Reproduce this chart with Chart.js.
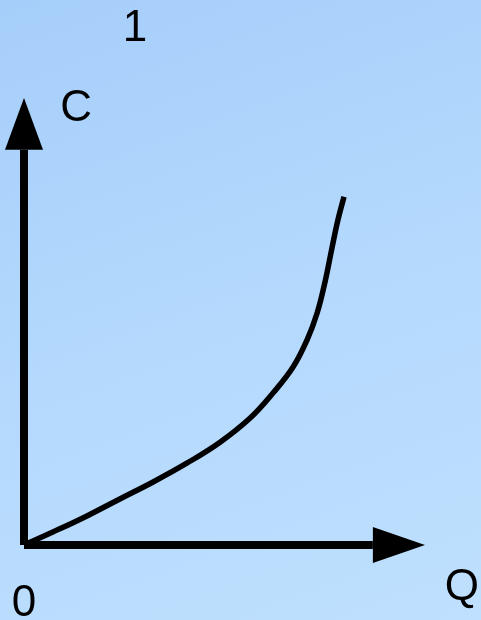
<!DOCTYPE html>
<html>
<head>
<meta charset="utf-8">
<script src="https://cdn.jsdelivr.net/npm/chart.js@4"></script>
<style>
  html, body { margin: 0; padding: 0; }
  body {
    width: 481px; height: 620px; overflow: hidden;
    background: linear-gradient(160deg, #a6cefa 0%, #b4d9fd 50%, #bfe0fe 100%);
  }
  canvas { display: block; }
</style>
</head>
<body>
<canvas id="costChart" width="481" height="620"></canvas>
<script>
  // curve: cost C against quantity Q (axis units 0..100)
  const curveQ = [0, 7.2, 15.7, 23.9, 32.2, 40.6, 48.9, 56.4, 62.1, 67.1, 70.6, 73.1, 75.1, 76.7, 78.2, 79.8];
  const curveC = [0, 2.9, 6.5, 10.3, 14.1, 18.3, 23.0, 28.4, 34.0, 39.8, 45.9, 51.9, 59.0, 66.0, 72.4, 77.9];

  // axes: shaft ends where the arrow head starts, tip at 100
  const axisShaftQ = 87.0;
  const axisShaftC = 88.4;
  const axisTip = 100;

  // text labels
  const labels = [
    { text: "1", q: 27.7, c: 112.8 },
    { text: "C", q: 13.0, c: 94.9 },
    { text: "0", q: 0, c: -15.9 },
    { text: "Q", q: 109.2, c: -12.3 },
  ];

  const arrowsAndText = {
    id: "arrowsAndText",
    afterDatasetsDraw(chart) {
      const { ctx, scales } = chart;
      const x = scales.x, y = scales.y;
      ctx.save();
      ctx.fillStyle = "#000";

      // vertical arrow head
      const vx = x.getPixelForValue(0);
      const vTip = y.getPixelForValue(axisTip);
      const vBase = y.getPixelForValue(axisShaftC);
      ctx.beginPath();
      ctx.moveTo(vx, vTip);
      ctx.lineTo(vx - 19, vBase);
      ctx.lineTo(vx + 19, vBase);
      ctx.closePath();
      ctx.fill();

      // horizontal arrow head
      const hy = y.getPixelForValue(0);
      const hTip = x.getPixelForValue(axisTip);
      const hBase = x.getPixelForValue(axisShaftQ);
      ctx.beginPath();
      ctx.moveTo(hTip, hy);
      ctx.lineTo(hBase, hy - 18);
      ctx.lineTo(hBase, hy + 18);
      ctx.closePath();
      ctx.fill();

      ctx.font = "44px 'Liberation Sans', Arial, sans-serif";
      ctx.textAlign = "center";
      ctx.textBaseline = "alphabetic";
      labels.forEach((l) => {
        ctx.fillText(l.text, x.getPixelForValue(l.q), y.getPixelForValue(l.c));
      });
      ctx.restore();
    },
  };

  new Chart(document.getElementById("costChart"), {
    type: "scatter",
    data: {
      datasets: [
        {
          data: [{ x: 0, y: 0 }, { x: 0, y: axisShaftC }],
          showLine: true,
          borderColor: "#000",
          borderWidth: 8,
          pointRadius: 0,
          borderCapStyle: "butt",
          clip: false,
        },
        {
          data: [{ x: 0, y: 0 }, { x: axisShaftQ, y: 0 }],
          showLine: true,
          borderColor: "#000",
          borderWidth: 8,
          pointRadius: 0,
          borderCapStyle: "butt",
          clip: false,
        },
        {
          data: curveQ.map((q, i) => ({ x: q, y: curveC[i] })),
          showLine: true,
          borderColor: "#000",
          borderWidth: 5.5,
          pointRadius: 0,
          tension: 0.4,
          clip: false,
        },
      ],
    },
    options: {
      responsive: false,
      animation: false,
      layout: { padding: { left: 24, right: 56, top: 98, bottom: 75 } },
      plugins: { legend: { display: false }, tooltip: { enabled: false } },
      scales: {
        x: { type: "linear", min: 0, max: 100, display: false },
        y: { type: "linear", min: 0, max: 100, display: false },
      },
    },
    plugins: [arrowsAndText],
  });
</script>
</body>
</html>
